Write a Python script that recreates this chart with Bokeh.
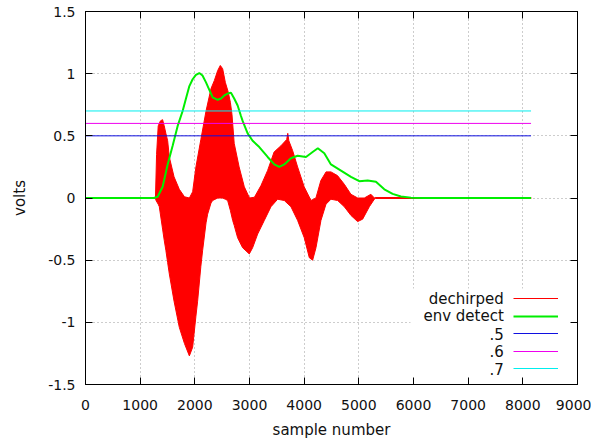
from bokeh.plotting import figure
from bokeh.models import (Range1d, LinearAxis, FixedTicker, Legend, LegendItem,
                          Label, BoxAnnotation)
from bokeh.embed import file_html
from bokeh.resources import INLINE

# ---------------- data ----------------
# envelope of the dechirped (red) signal: upper and lower edge
red_up_x = [0, 1280, 1300, 1330, 1370, 1410, 1440, 1470, 1503, 1533, 1620, 1716, 1810,
            1900, 1960, 2020, 2110, 2205, 2296, 2357, 2418, 2466, 2509, 2558, 2612,
            2650, 2680, 2720, 2810, 2905, 3000, 3090, 3210, 3330, 3450, 3575, 3680,
            3700, 3720, 3790, 3880, 4000, 4125, 4215, 4305, 4400, 4490, 4610, 4735,
            4855, 4980, 5100, 5220, 5285, 5300, 8150]
red_up_y = [0.004, 0.004, 0.35, 0.58, 0.62, 0.63, 0.58, 0.52, 0.46, 0.33, 0.17, 0.07, 0.01,
            0.0, 0.05, 0.25, 0.47, 0.70, 0.88, 0.945, 1.025, 1.066, 1.04, 0.93, 0.85,
            0.77, 0.67, 0.44, 0.25, 0.09, 0.0, 0.006, 0.10, 0.22, 0.37, 0.42, 0.47,
            0.52, 0.46, 0.38, 0.25, 0.09, -0.02, 0.0, 0.14, 0.21, 0.21, 0.18, 0.11,
            0.03, 0.0, 0.0, 0.03, 0.0, 0.004, 0.004]
red_lo_x = [0, 1280, 1290, 1330, 1350, 1410, 1440, 1470, 1503, 1533, 1620, 1716, 1810,
            1900, 1960, 2020, 2051, 2110, 2143, 2205, 2234, 2296, 2326, 2418, 2509,
            2558, 2600, 2650, 2692, 2720, 2783, 2874, 2996, 3057, 3149, 3271, 3393,
            3515, 3636, 3758, 3880, 4002, 4094, 4155, 4216, 4307, 4399, 4490, 4612,
            4734, 4856, 4978, 5070, 5192, 5283, 5300, 8150]
red_lo_y = [-0.004, -0.004, -0.02, -0.05, -0.07, -0.25, -0.34, -0.42, -0.52, -0.61, -0.83,
            -1.04, -1.17, -1.27, -1.20, -0.95, -0.83, -0.55, -0.42, -0.20, -0.13, -0.04,
            -0.02, 0.0, 0.0, -0.01, -0.02, -0.10, -0.18, -0.22, -0.32, -0.40, -0.45,
            -0.40, -0.29, -0.18, -0.07, -0.01, -0.02, -0.07, -0.18, -0.32, -0.48, -0.50,
            -0.40, -0.18, -0.05, -0.01, -0.02, -0.07, -0.14, -0.19, -0.17, -0.07, -0.01,
            -0.004, -0.004]

# envelope detector output (green)
env_x = [0, 1250, 1320, 1411, 1503, 1594, 1686, 1777, 1838, 1900, 1960, 2020, 2082,
         2140, 2204, 2265, 2326, 2418, 2480, 2539, 2600, 2661, 2720, 2783, 2844, 2874,
         2966, 3057, 3179, 3332, 3454, 3545, 3636, 3758, 3880, 4033, 4155, 4250, 4368,
         4490, 4673, 4856, 5008, 5161, 5313, 5466, 5618, 5770, 5954, 6200, 8150]
env_y = [0.0, 0.0, 0.01, 0.09, 0.27, 0.42, 0.58, 0.70, 0.80, 0.90, 0.955, 0.99, 1.005,
         0.985, 0.93, 0.87, 0.81, 0.79, 0.80, 0.825, 0.84, 0.846, 0.80, 0.744, 0.66, 0.62,
         0.52, 0.46, 0.41, 0.33, 0.27, 0.25, 0.27, 0.32, 0.34, 0.33, 0.37, 0.40, 0.36,
         0.27, 0.22, 0.17, 0.135, 0.14, 0.13, 0.07, 0.033, 0.012, 0.003, 0.0, 0.0]

thresholds = [0.5, 0.6, 0.7]
threshold_names = [".5", ".6", ".7"]
threshold_colors = ["#1010e0", "#ee00ee", "#00eeee"]
threshold_x = [0, 8150]

series_names = ["dechirped", "env detect"]
x_ticks = [0, 1000, 2000, 3000, 4000, 5000, 6000, 7000, 8000, 9000]
y_ticks = [-1.5, -1, -0.5, 0, 0.5, 1, 1.5]
y_tick_labels = ["-1.5", "-1", "-0.5", "0", "0.5", "1", "1.5"]

# ---------------- figure ----------------
FONT = "DejaVu Sans"
p = figure(frame_width=492, frame_height=373,
           x_range=Range1d(0, 9000), y_range=Range1d(-1.5, 1.5),
           output_backend="svg", toolbar_location=None,
           min_border_left=85, min_border_top=11, min_border_right=14, min_border_bottom=54,
           x_axis_label="sample number", y_axis_label="volts")
p.background_fill_color = "white"
p.border_fill_color = "white"
p.outline_line_color = "black"
p.outline_line_width = 1

def style_axis(ax, ticks, show_labels):
    ax.ticker = FixedTicker(ticks=ticks)
    ax.major_tick_in = 7
    ax.major_tick_out = 0
    ax.minor_tick_line_color = None
    ax.axis_line_color = "black"
    ax.major_tick_line_color = "black"
    ax.major_label_text_font = FONT
    ax.major_label_text_color = "#111111"
    ax.major_label_text_font_size = "14px"
    if show_labels:
        ax.major_label_standoff = 10
    else:
        ax.major_label_overrides = {t: "" for t in ticks}
        ax.major_label_standoff = 0
    ax.axis_label_text_font = FONT
    ax.axis_label_text_font_size = "15px"
    ax.axis_label_text_font_style = "normal"
    ax.axis_label_text_color = "#111111"

style_axis(p.xaxis[0], x_ticks, True)
style_axis(p.yaxis[0], y_ticks, True)
p.yaxis[0].major_label_overrides = {t: s for t, s in zip(y_ticks, y_tick_labels)}
p.xaxis[0].major_label_standoff = 15
p.xaxis[0].axis_label_standoff = 8
p.yaxis[0].axis_label_standoff = 16

top_ax = LinearAxis()
right_ax = LinearAxis()
style_axis(top_ax, x_ticks, False)
style_axis(right_ax, y_ticks, False)
p.add_layout(top_ax, "above")
p.add_layout(right_ax, "right")

for g, t in ((p.xgrid[0], x_ticks), (p.ygrid[0], y_ticks)):
    g.ticker = FixedTicker(ticks=t)
    g.grid_line_color = "#9a9a9a"
    g.grid_line_dash = "1 3"
    g.grid_line_width = 1

# ---------------- data marks ----------------
band_x = red_up_x + red_lo_x[::-1]
band_y = red_up_y + red_lo_y[::-1]
p.patch(x=band_x, y=band_y, fill_color="#ff0000", fill_alpha=1, line_alpha=0)
r_red = p.line(x=band_x, y=band_y, line_color="#ff0000", line_width=1)
r_env = p.line(x=env_x, y=env_y, line_color="#00ee00", line_width=2)
r_thr = []
for t, c in zip(thresholds, threshold_colors):
    r_thr.append(p.line(x=threshold_x, y=[t] * len(threshold_x), line_color=c, line_width=1))

# ---------------- key (gnuplot style: text then sample) ----------------
key_box = BoxAnnotation(left=325, right=488, top=96, bottom=3,
                        left_units="screen", right_units="screen",
                        top_units="screen", bottom_units="screen",
                        fill_color="white", fill_alpha=1, line_alpha=0, level="glyph")
p.add_layout(key_box)

key_names = series_names + threshold_names
key_rends = [r_red, r_env] + r_thr
row0, pitch = 85.7, 17.5
for i, (name, r) in enumerate(zip(key_names, key_rends)):
    cy = row0 - i * pitch
    leg = Legend(items=[LegendItem(label=" ", renderers=[r])],
                 location=(427.7, cy - 5), padding=0, margin=0, spacing=0,
                 glyph_width=45, glyph_height=10, label_height=10, label_width=0,
                 label_standoff=0, label_text_font_size="8px",
                 background_fill_alpha=0, border_line_alpha=0)
    p.add_layout(leg)
    p.add_layout(Label(x=418.3, y=cy, x_units="screen", y_units="screen", text=name,
                       text_align="right", text_baseline="middle", text_font=FONT,
                       text_font_size="15px", text_color="#111111"))

open("out.html", "w").write(file_html(p, INLINE))
